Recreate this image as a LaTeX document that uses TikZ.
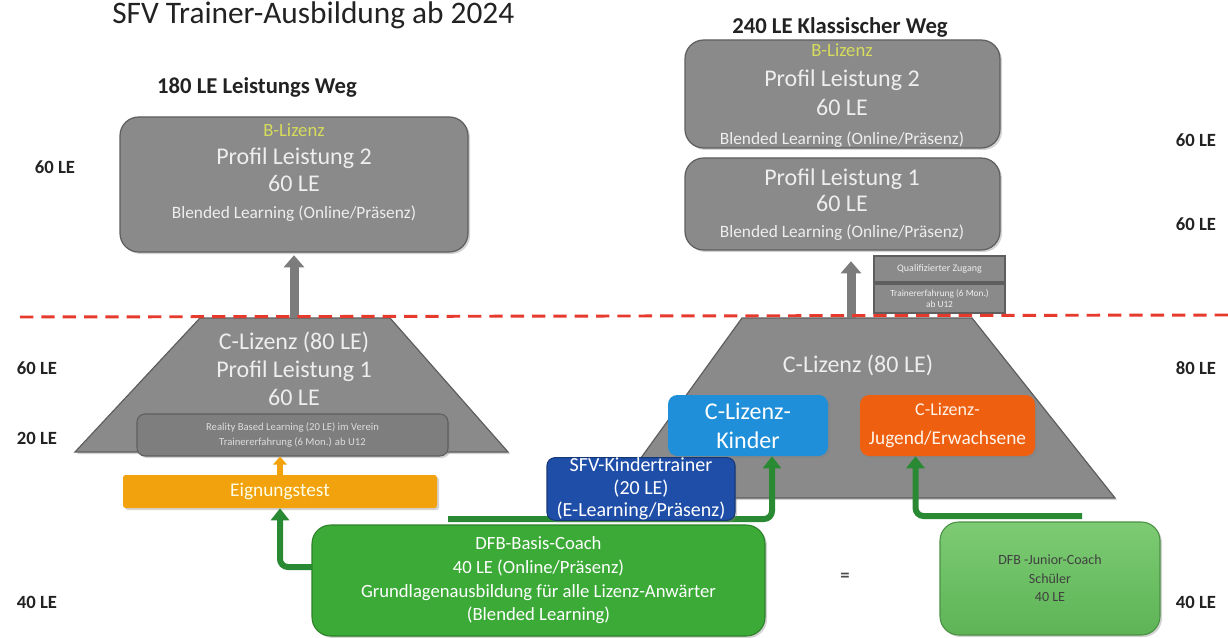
\documentclass[tikz,border=0pt]{standalone}
\usepackage{fontspec}
\setmainfont{Carlito}
\usetikzlibrary{arrows.meta,shadows,calc}
\definecolor{boxgray}{HTML}{8A8A8A}
\definecolor{innergray}{HTML}{7E7E7E}
\definecolor{boxedge}{HTML}{5E5E5E}
\definecolor{boxtext}{HTML}{EEEEEE}
\definecolor{blizenz}{HTML}{D6DC5C}
\definecolor{eignung}{HTML}{F2A20C}
\definecolor{kinderblue}{HTML}{1E8FD8}
\definecolor{jugendorange}{HTML}{EE5F10}
\definecolor{sfvblue}{HTML}{1F4EA8}
\definecolor{basisgreen}{HTML}{3BAA37}
\definecolor{juniortop}{HTML}{7DCB74}
\definecolor{juniorbot}{HTML}{5DB455}
\definecolor{arrowgreen}{HTML}{2A8A34}
\definecolor{arrowgray}{HTML}{7C7C7C}
\definecolor{arroworange}{HTML}{F2A20C}
\definecolor{dashred}{HTML}{E63A2C}
\definecolor{labeltext}{HTML}{222222}
\tikzset{
  pbox/.style args={#1/#2/#3/#4}{minimum width={(#3-#1)*0.75pt}, minimum height={(#4-#2)*0.75pt},
      at={({(#1+#3)/2},{(#2+#4)/2})}},
  shadowed/.style={drop shadow={shadow xshift=1.5pt,shadow yshift=-1.5pt,opacity=0.35}},
  graybox/.style={draw=boxedge, line width=0.9pt, fill=boxgray, rounded corners=14pt, inner sep=0pt, shadowed},
  trapshape/.style={draw=boxedge, line width=0.9pt, fill=boxgray, shadowed},
  boxtxt/.style={text=boxtext, align=center},
  sidelabel/.style={font=\bfseries\fontsize{14}{16}\selectfont, text=labeltext},
  heading/.style={font=\bfseries\fontsize{17}{20}\selectfont, text=labeltext},
  grayarrow/.style={draw=arrowgray, line width=6.75pt, -{Triangle[width=15pt,length=9pt]}},
  greenarrow/.style={draw=arrowgreen, line width=4.5pt, rounded corners=6pt, -{Triangle[width=13.5pt,length=9pt]}},
  orangearrow/.style={draw=arroworange, line width=4pt, -{Triangle[width=10pt,length=6pt]}},
  reddash/.style={draw=dashred, line width=2.2pt, dash pattern=on 10pt off 6pt},
  colbox/.style={inner sep=0pt, rounded corners=7pt, shadowed, align=center},
}
\begin{document}
\begin{tikzpicture}[x=0.75pt,y=-0.75pt]
\useasboundingbox (0,0) rectangle (1228,638);

% title and headings
\node[anchor=base west, inner sep=0pt, font=\fontsize{23.5}{28}\selectfont, text=labeltext] (title) at (112,24) {SFV Trainer-Ausbildung ab 2024};
\node[heading] (h180) at (257,87) {180 LE Leistungs Weg};
\node[heading] (h240) at (840,27) {240 LE Klassischer Weg};

% side labels
\node[sidelabel] (l60a) at (55,167) {60 LE};
\node[sidelabel] (l60b) at (37,368) {60 LE};
\node[sidelabel] (l20) at (37,438) {20 LE};
\node[sidelabel] (l40) at (37,602) {40 LE};
\node[sidelabel] (r60a) at (1196,140) {60 LE};
\node[sidelabel] (r60b) at (1196,224) {60 LE};
\node[sidelabel] (r80) at (1196,368) {80 LE};
\node[sidelabel] (r40) at (1196,602) {40 LE};

% left B-Lizenz box
\node[graybox, pbox=120/117/468/252] (LB) {};
\node[boxtxt, font=\fontsize{18}{20.5}\selectfont] (LBt) at (294,173)
  {{\color{blizenz}\fontsize{14}{16}\selectfont B-Lizenz}\\Profil Leistung 2\\60 LE\\{\fontsize{13}{15}\selectfont Blended Learning (Online/Präsenz)}};

% right B-Lizenz box
\node[graybox, pbox=685/40/1000/148] (RB) {};
\node[boxtxt, font=\fontsize{18}{22}\selectfont] (RBt) at (842,96)
  {{\color{blizenz}\fontsize{14}{16}\selectfont B-Lizenz}\\Profil Leistung 2\\60 LE\\{\fontsize{13}{15}\selectfont Blended Learning (Online/Präsenz)}};

% right Profil Leistung 1 box
\node[graybox, pbox=685/158/1000/250] (RP1) {};
\node[boxtxt, font=\fontsize{18}{19.5}\selectfont] (RP1t) at (842,205)
  {Profil Leistung 1\\60 LE\\{\fontsize{13}{15}\selectfont Blended Learning (Online/Präsenz)}};

% Qualifizierter Zugang
\node[draw=boxedge, line width=0.9pt, fill=boxgray, inner sep=0pt, pbox=874/256/1005/282,
      text=boxtext, font=\fontsize{7.5}{9}\selectfont] (Q1) {Qualifizierter Zugang};
\node[draw=boxedge, line width=0.9pt, fill=boxgray, inner sep=0pt, pbox=874/284/1005/313,
      text=boxtext, align=center, font=\fontsize{7}{8.5}\selectfont] (Q2) {Trainererfahrung (6 Mon.)\\ab U12};

% left trapezoid
\draw[trapshape] (75,452) -- (200,318) -- (390,318) -- (508,452) -- cycle;
\coordinate (LTtop) at (294,318);
\node[boxtxt, font=\fontsize{18}{21}\selectfont] (LTt) at (294,369) {C-Lizenz (80 LE)\\Profil Leistung 1\\60 LE};
\node[draw=boxedge, line width=0.8pt, fill=innergray, rounded corners=6pt, inner sep=0pt, shadowed,
      pbox=137/414/448/456, text=boxtext!85!gray, align=center, font=\fontsize{8}{11}\selectfont] (RBL)
  {Reality Based Learning (20 LE) im Verein\\Trainererfahrung (6 Mon.) ab U12};

% right trapezoid
\draw[trapshape] (612,498) -- (742,318) -- (972,318) -- (1115,498) -- cycle;
\coordinate (RTtop) at (851,318);
\node[text=boxtext, font=\fontsize{18}{21}\selectfont] (RTt) at (858,365) {C-Lizenz (80 LE)};

\node[colbox, fill=kinderblue, pbox=668/395/828/456, text=white, font=\fontsize{18}{22}\selectfont] (Kinder) {C-Lizenz-\\Kinder};
\node[colbox, fill=jugendorange, pbox=860/395/1035/456, text=white!92!orange, font=\fontsize{14.5}{22}\selectfont] (Jugend) {{\fontsize{13.5}{16}\selectfont C-Lizenz-}\\Jugend/Erwachsene};

% gray arrows
\draw[grayarrow, shorten >=2pt] (LTtop) -- (LB.south);
\draw[grayarrow, shorten >=8pt] (RTtop) -- (RTtop |- RP1.south);

% Eignungstest
\node[fill=eignung, inner sep=0pt, rounded corners=2pt, shadowed, pbox=123/475/437/508,
      text=white!90!yellow, font=\fontsize{14.5}{16}\selectfont] (Eign) {Eignungstest};
\draw[orangearrow] (Eign.north) -- (Eign.north |- RBL.south);

% green connectors (behind boxes)
\coordinate (bcL) at (312,567);
\coordinate (bcT) at (448,519);
\coordinate (kinIn) at ($(Kinder.south)+(24,0)$);
\coordinate (jcT) at (1082,516);
\coordinate (jugIn) at ($(Jugend.south)+(-32,0)$);
\draw[greenarrow] (bcT) -| (kinIn);
\draw[greenarrow] (jcT) -| (jugIn);

% SFV Kindertrainer
\node[colbox, fill=sfvblue, draw=sfvblue!70!black, line width=0.8pt, rounded corners=6pt, pbox=547/458/735/520,
      text=white, font=\fontsize{15}{17}\selectfont] (SFV) {SFV-Kindertrainer\\(20 LE)\\(E-Learning/Präsenz)};

% DFB Basis-Coach
\node[colbox, fill=basisgreen, draw=basisgreen!75!black, line width=0.8pt, rounded corners=14pt, pbox=312/525/765/636,
      text=white, font=\fontsize{14}{17.8}\selectfont] (Basis)
  {DFB-Basis-Coach\\40 LE (Online/Präsenz)\\Grundlagenausbildung für alle Lizenz-Anwärter\\(Blended Learning)};
\draw[greenarrow] (bcL) -| (Eign.south);

% DFB Junior-Coach
\node[colbox, top color=juniortop, bottom color=juniorbot, draw=juniorbot!80!black, line width=0.8pt, rounded corners=14pt,
      pbox=940/522/1160/635, text=black!75, font=\fontsize{10.5}{14}\selectfont] (Junior)
  {DFB -Junior-Coach\\Schüler\\40 LE};

\node[font=\bfseries\fontsize{14}{16}\selectfont, text=black!70] (eq) at (845,577) {=};

% red dashed separator
\coordinate (dashL) at (20,317);
\coordinate (dashR) at (1228,315);
\draw[reddash] (dashL) -- (dashR);
\end{tikzpicture}
\end{document}
